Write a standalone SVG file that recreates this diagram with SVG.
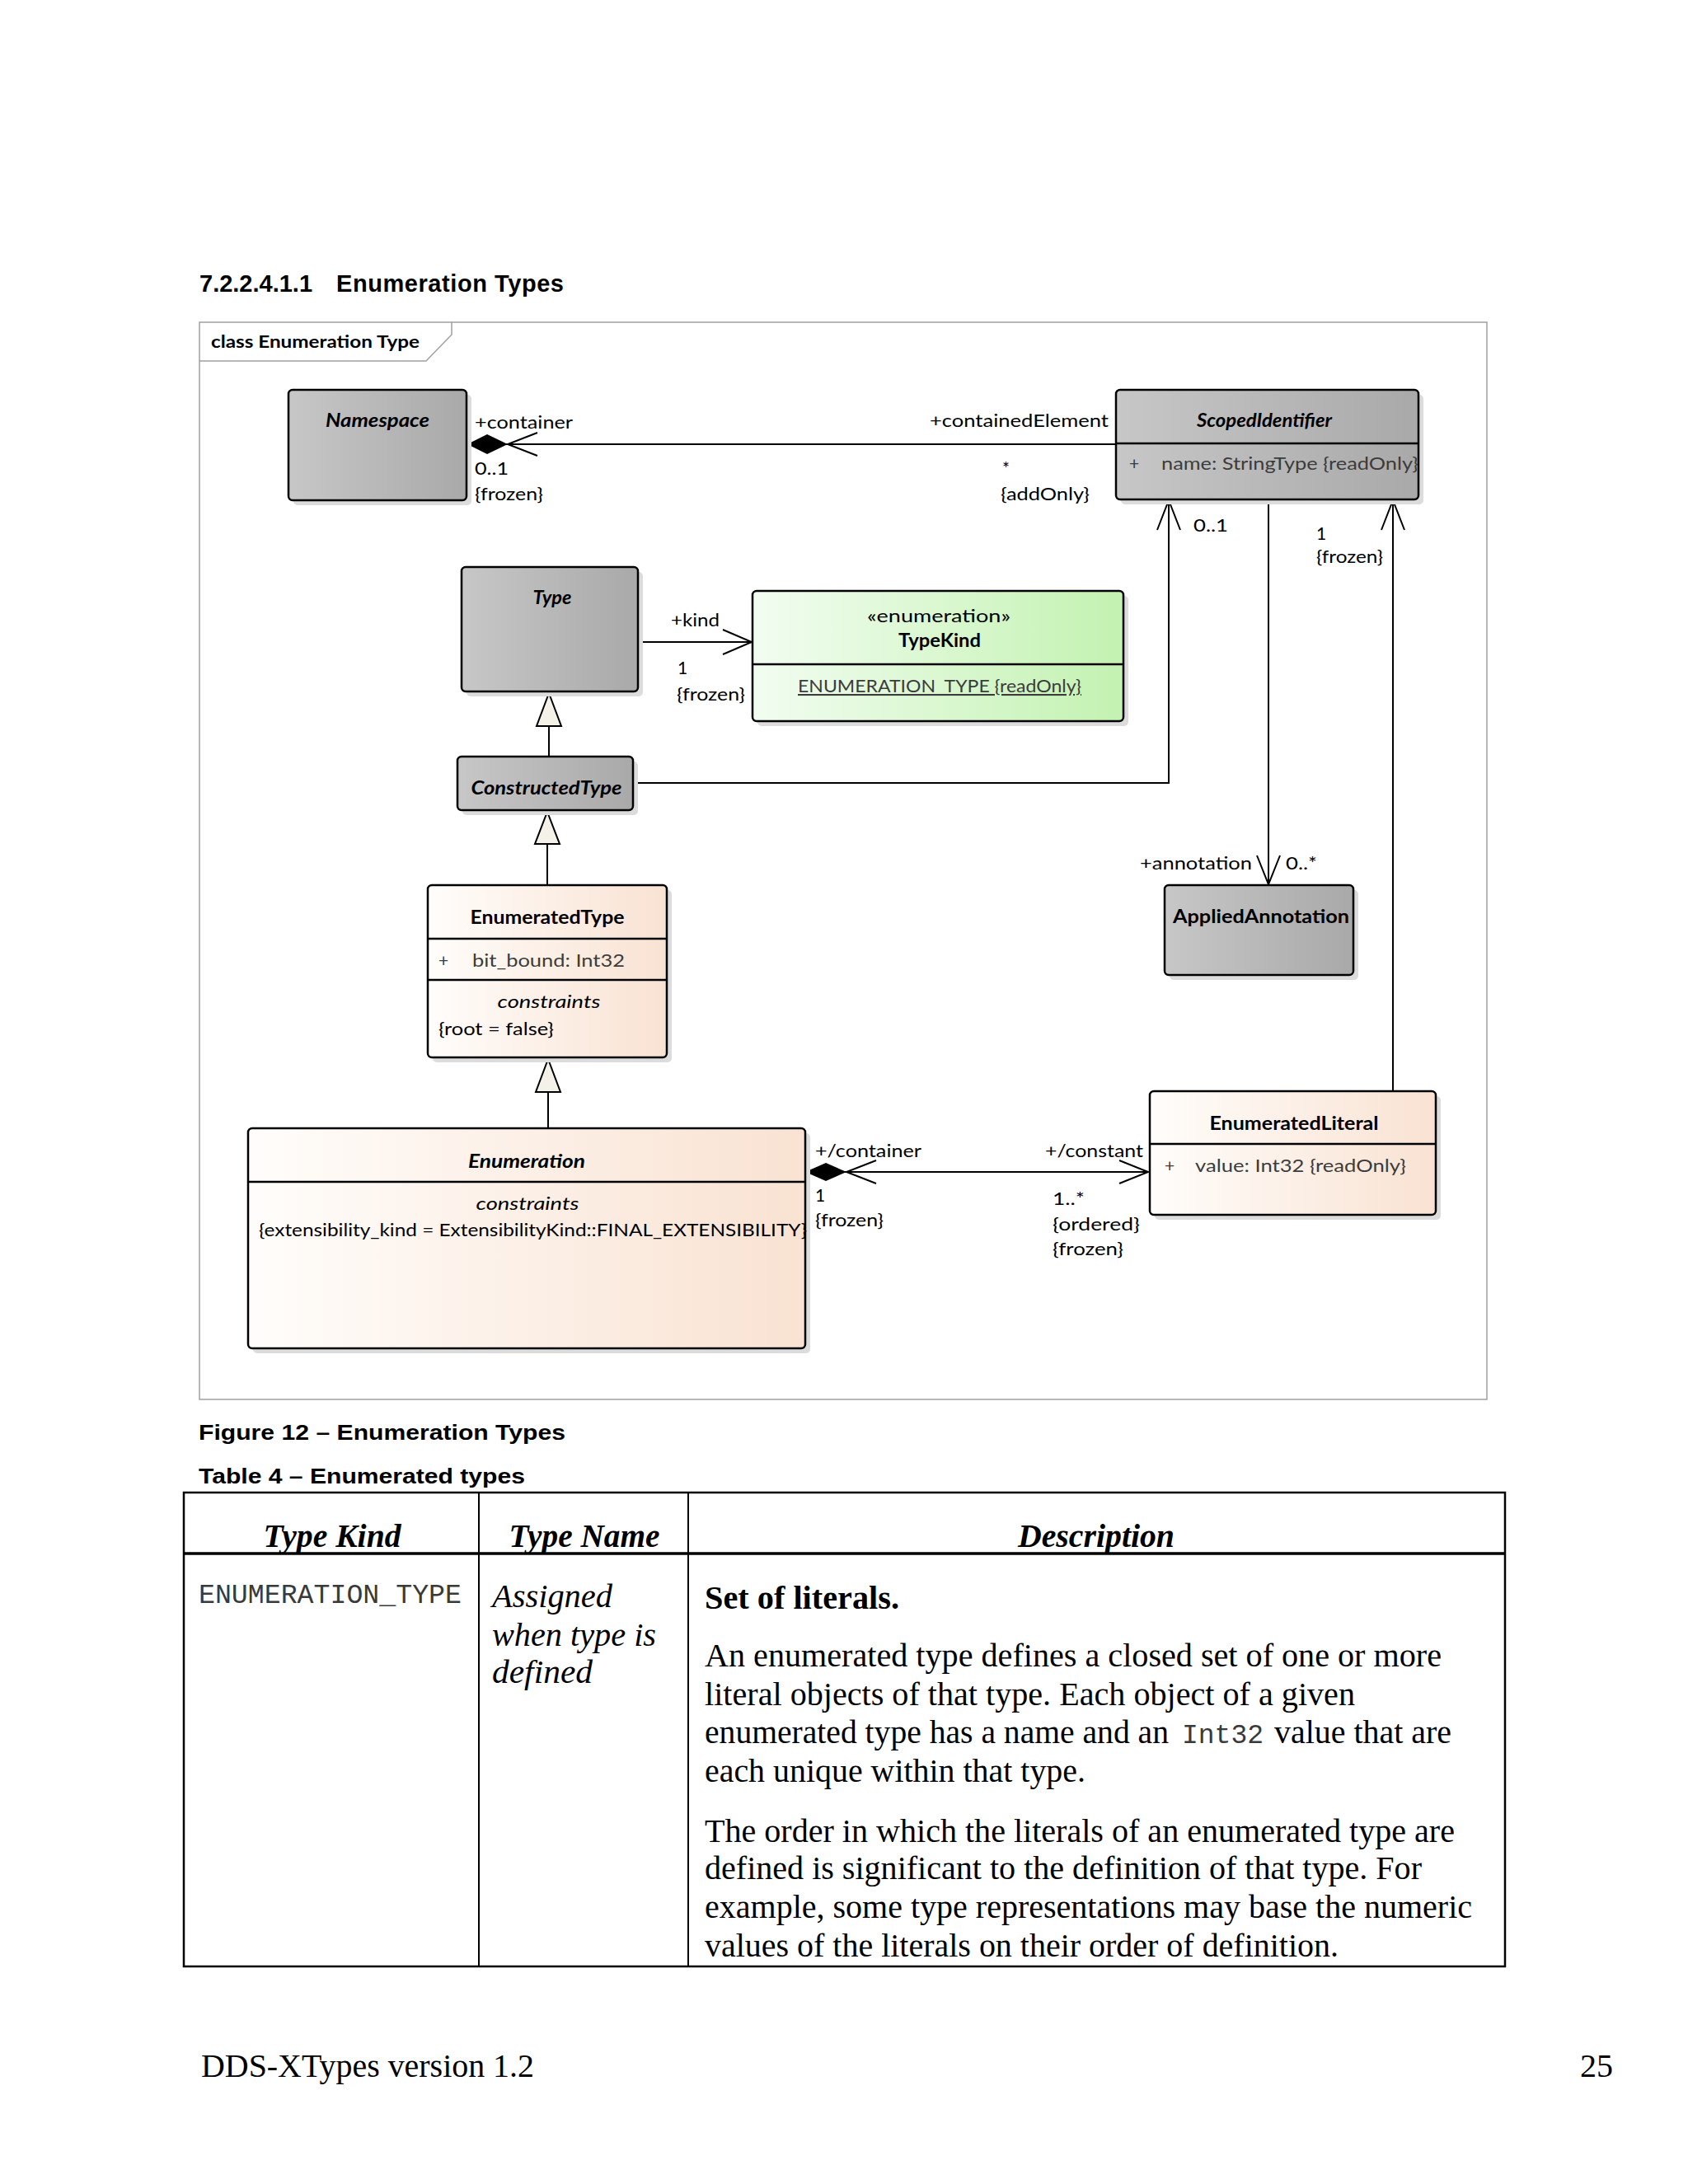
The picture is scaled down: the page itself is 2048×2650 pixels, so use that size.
<svg xmlns="http://www.w3.org/2000/svg" width="2048" height="2650" viewBox="0 0 2048 2650">
<defs>
<linearGradient id="gGray" x1="0" y1="0" x2="1" y2="0"><stop offset="0" stop-color="#c7c7c7"/><stop offset="1" stop-color="#a9a9a9"/></linearGradient>
<linearGradient id="gGreen" x1="0" y1="0" x2="1" y2="0"><stop offset="0" stop-color="#f2fdf1"/><stop offset="1" stop-color="#c3f2b1"/></linearGradient>
<linearGradient id="gPeach" x1="0" y1="0" x2="1" y2="0"><stop offset="0" stop-color="#fffdfb"/><stop offset="1" stop-color="#f9e2d2"/></linearGradient>
<style>
.box{stroke:#000;stroke-width:2.5}
.gray{fill:url(#gGray)}
.green{fill:url(#gGreen)}
.peach{fill:url(#gPeach)}
.sh{fill:#dcdcdc}
.sep{stroke:#000;stroke-width:2.5}
.ln{stroke:#000;stroke-width:2;fill:none}
.dia{fill:#000}
.tri{fill:#f4f1e8;stroke:#000;stroke-width:2}
.d{font-family:Lato,"Open Sans",sans-serif;font-size:21px;fill:#000;font-variant-numeric:lining-nums;font-feature-settings:"lnum" 1,"onum" 0}
.t{font-weight:bold;font-size:22px}
.it{font-style:italic}
.mid{text-anchor:middle}
.attr{fill:#3c3c3c}
.h{font-family:"Liberation Sans",Arial,sans-serif;font-weight:bold;fill:#000}
.s{font-family:"Liberation Serif","Times New Roman",serif;font-size:40px;fill:#000}
.m{font-family:"Liberation Mono","Courier New",monospace;font-size:33px;fill:#3a3a3a}
.tb{stroke:#000;stroke-width:2.5;fill:none}
</style>
</defs>
<rect x="0" y="0" width="2048" height="2650" fill="#ffffff"/>

<!-- page heading -->
<text class="h" font-size="29" x="242" y="354">7.2.2.4.1.1</text>
<text class="h" font-size="29" x="408" y="354" textLength="276">Enumeration Types</text>

<!-- frame -->
<g id="frame">
<rect x="242" y="391" width="1562" height="1307" fill="#ffffff" stroke="#a0a0a0" stroke-width="1.5"/>
<path d="M242,438 H517 L548,406 V391" fill="none" stroke="#a0a0a0" stroke-width="1.5"/>
<text class="d" font-weight="bold" x="256" y="422" textLength="253" lengthAdjust="spacingAndGlyphs">class Enumeration Type</text>
</g>

<!-- connectors -->
<g id="connectors">
<path class="ln" d="M566,539 H1354"/>
<path class="dia" d="M567,539 L591,527 L616,539 L591,551 Z"/>
<path class="ln" d="M652,525 L616,539 L652,553"/>
<path class="ln" d="M774,779 H912"/>
<path class="ln" d="M877,764 L912,779 L877,794"/>
<path class="ln" d="M768,950 H1418 V607"/>
<path class="ln" d="M1404,643 L1418,607 L1432,643"/>
<path class="ln" d="M1539,606 V1073"/>
<path class="ln" d="M1525,1038 L1539,1073 L1553,1038"/>
<path class="ln" d="M1690,1324 V607"/>
<path class="ln" d="M1676,643 L1690,607 L1704,643"/>
<path class="ln" d="M977,1422 H1393"/>
<path class="dia" d="M977,1422 L1002,1411 L1027,1422 L1002,1433 Z"/>
<path class="ln" d="M1063,1408 L1027,1422 L1063,1436"/>
<path class="ln" d="M1358,1408 L1393,1422 L1358,1436"/>
<path class="ln" d="M666,918 V881"/>
<path class="tri" d="M666,841 L681,881 L651,881 Z"/>
<path class="ln" d="M664,1074 V1024"/>
<path class="tri" d="M664,985 L679,1024 L649,1024 Z"/>
<path class="ln" d="M665,1369 V1325"/>
<path class="tri" d="M665,1285 L680,1325 L650,1325 Z"/>
<text class="d" x="576" y="520" textLength="119" lengthAdjust="spacingAndGlyphs">+container</text>
<text class="d" x="576" y="576" textLength="41" lengthAdjust="spacingAndGlyphs">0..1</text>
<text class="d" x="576" y="607" textLength="83" lengthAdjust="spacingAndGlyphs">{frozen}</text>
<text class="d" x="1128" y="518" textLength="217" lengthAdjust="spacingAndGlyphs">+containedElement</text>
<text class="d" x="1216" y="576">*</text>
<text class="d" x="1214" y="607" textLength="108" lengthAdjust="spacingAndGlyphs">{addOnly}</text>
<text class="d" x="1448" y="645" textLength="42" lengthAdjust="spacingAndGlyphs">0..1</text>
<text class="d" x="1597" y="655">1</text>
<text class="d" x="1597" y="683" textLength="81" lengthAdjust="spacingAndGlyphs">{frozen}</text>
<text class="d" x="814" y="760" textLength="59" lengthAdjust="spacingAndGlyphs">+kind</text>
<text class="d" x="822" y="818">1</text>
<text class="d" x="821" y="850" textLength="83" lengthAdjust="spacingAndGlyphs">{frozen}</text>
<text class="d" x="1383" y="1055" textLength="136" lengthAdjust="spacingAndGlyphs">+annotation</text>
<text class="d" x="1560" y="1055" textLength="38" lengthAdjust="spacingAndGlyphs">0..*</text>
<text class="d" x="989" y="1404" textLength="129" lengthAdjust="spacingAndGlyphs">+/container</text>
<text class="d" x="989" y="1458">1</text>
<text class="d" x="989" y="1488" textLength="83" lengthAdjust="spacingAndGlyphs">{frozen}</text>
<text class="d" x="1268" y="1404" textLength="119" lengthAdjust="spacingAndGlyphs">+/constant</text>
<text class="d" x="1277" y="1462" textLength="39" lengthAdjust="spacingAndGlyphs">1..*</text>
<text class="d" x="1277" y="1493" textLength="106" lengthAdjust="spacingAndGlyphs">{ordered}</text>
<text class="d" x="1277" y="1523" textLength="86" lengthAdjust="spacingAndGlyphs">{frozen}</text>
</g>

<!-- nodes -->
<g id="Namespace">
<rect class="sh" x="356" y="479" width="216" height="134" rx="5"/>
<rect class="box gray" x="350" y="473" width="216" height="134" rx="5"/>
<text class="d t it mid" x="458" y="518" textLength="126" lengthAdjust="spacingAndGlyphs">Namespace</text>
</g>

<g id="ScopedIdentifier">
<rect class="sh" x="1360" y="479" width="367" height="133" rx="5"/>
<rect class="box gray" x="1354" y="473" width="367" height="133" rx="5"/>
<line class="sep" x1="1354" y1="538" x2="1721" y2="538"/>
<text class="d t it mid" x="1534" y="518" textLength="164" lengthAdjust="spacingAndGlyphs">ScopedIdentifier</text>
<text class="d attr" x="1370" y="570">+</text>
<text class="d attr" x="1409" y="570" textLength="312" lengthAdjust="spacingAndGlyphs">name: StringType {readOnly}</text>
</g>

<g id="Type">
<rect class="sh" x="566" y="694" width="214" height="151" rx="5"/>
<rect class="box gray" x="560" y="688" width="214" height="151" rx="5"/>
<text class="d t it mid" x="670" y="733" textLength="47" lengthAdjust="spacingAndGlyphs">Type</text>
</g>

<g id="TypeKind">
<rect class="sh" x="919" y="723" width="450" height="158" rx="5"/>
<rect class="box green" x="913" y="717" width="450" height="158" rx="5"/>
<line class="sep" x1="913" y1="806" x2="1363" y2="806"/>
<text class="d mid" x="1139" y="755" textLength="174" lengthAdjust="spacingAndGlyphs">«enumeration»</text>
<text class="d t mid" x="1140" y="785" textLength="100" lengthAdjust="spacingAndGlyphs">TypeKind</text>
<text class="d attr mid" x="1140" y="840" text-decoration="underline" textLength="344" lengthAdjust="spacingAndGlyphs">ENUMERATION_TYPE {readOnly}</text>
</g>

<g id="ConstructedType">
<rect class="sh" x="561" y="924" width="213" height="65" rx="5"/>
<rect class="box gray" x="555" y="918" width="213" height="65" rx="5"/>
<text class="d t it mid" x="663" y="964" textLength="183" lengthAdjust="spacingAndGlyphs">ConstructedType</text>
</g>

<g id="EnumeratedType">
<rect class="sh" x="525" y="1080" width="290" height="209" rx="5"/>
<rect class="box peach" x="519" y="1074" width="290" height="209" rx="5"/>
<line class="sep" x1="519" y1="1139" x2="809" y2="1139"/>
<line class="sep" x1="519" y1="1189" x2="809" y2="1189"/>
<text class="d t mid" x="664" y="1121" textLength="187" lengthAdjust="spacingAndGlyphs">EnumeratedType</text>
<text class="d attr" x="532" y="1173">+</text>
<text class="d attr" x="573" y="1173" textLength="185" lengthAdjust="spacingAndGlyphs">bit_bound: Int32</text>
<text class="d it mid" x="666" y="1223" textLength="125" lengthAdjust="spacingAndGlyphs">constraints</text>
<text class="d" x="532" y="1256" textLength="140" lengthAdjust="spacingAndGlyphs">{root = false}</text>
</g>

<g id="AppliedAnnotation">
<rect class="sh" x="1419" y="1080" width="229" height="109" rx="5"/>
<rect class="box gray" x="1413" y="1074" width="229" height="109" rx="5"/>
<text class="d t" x="1423" y="1120" textLength="214" lengthAdjust="spacingAndGlyphs">AppliedAnnotation</text>
</g>

<g id="EnumeratedLiteral">
<rect class="sh" x="1401" y="1330" width="347" height="150" rx="5"/>
<rect class="box peach" x="1395" y="1324" width="347" height="150" rx="5"/>
<line class="sep" x1="1395" y1="1388" x2="1742" y2="1388"/>
<text class="d t mid" x="1570" y="1371" textLength="205" lengthAdjust="spacingAndGlyphs">EnumeratedLiteral</text>
<text class="d attr" x="1413" y="1422">+</text>
<text class="d attr" x="1450" y="1422" textLength="256" lengthAdjust="spacingAndGlyphs">value: Int32 {readOnly}</text>
</g>

<g id="Enumeration">
<rect class="sh" x="307" y="1375" width="676" height="267" rx="5"/>
<rect class="box peach" x="301" y="1369" width="676" height="267" rx="5"/>
<line class="sep" x1="301" y1="1434" x2="977" y2="1434"/>
<text class="d t it mid" x="639" y="1417" textLength="142" lengthAdjust="spacingAndGlyphs">Enumeration</text>
<text class="d it mid" x="640" y="1468" textLength="125" lengthAdjust="spacingAndGlyphs">constraints</text>
<text class="d" x="314" y="1500" textLength="665" lengthAdjust="spacingAndGlyphs">{extensibility_kind = ExtensibilityKind::FINAL_EXTENSIBILITY}</text>
</g>

<!-- captions -->
<text class="h" font-size="26" x="241" y="1747" textLength="445" lengthAdjust="spacingAndGlyphs">Figure 12 – Enumeration Types</text>
<text class="h" font-size="26" x="241" y="1800" textLength="396" lengthAdjust="spacingAndGlyphs">Table 4 – Enumerated types</text>

<!-- table -->
<g id="table">
<rect class="tb" x="223" y="1811" width="1603" height="575"/>
<line x1="223" y1="1885" x2="1826" y2="1885" stroke="#000" stroke-width="3.5"/>
<line x1="581" y1="1811" x2="581" y2="2386" stroke="#000" stroke-width="2"/>
<line x1="835" y1="1811" x2="835" y2="2386" stroke="#000" stroke-width="2"/>
<text class="s mid" font-weight="bold" font-style="italic" font-size="39" x="403" y="1877" textLength="167" lengthAdjust="spacingAndGlyphs">Type Kind</text>
<text class="s mid" font-weight="bold" font-style="italic" font-size="39" x="709" y="1877" textLength="183" lengthAdjust="spacingAndGlyphs">Type Name</text>
<text class="s mid" font-weight="bold" font-style="italic" font-size="39" x="1330" y="1877" textLength="190" lengthAdjust="spacingAndGlyphs">Description</text>
<text class="m" x="241" y="1945" textLength="319" lengthAdjust="spacingAndGlyphs">ENUMERATION_TYPE</text>
<text class="s" font-style="italic" x="597" y="1950" textLength="146" lengthAdjust="spacingAndGlyphs">Assigned</text>
<text class="s" font-style="italic" x="597" y="1997" textLength="199" lengthAdjust="spacingAndGlyphs">when type is</text>
<text class="s" font-style="italic" x="597" y="2042" textLength="122" lengthAdjust="spacingAndGlyphs">defined</text>
<text class="s" font-weight="bold" x="855" y="1952" textLength="236" lengthAdjust="spacingAndGlyphs">Set of literals.</text>
<text class="s" x="855" y="2022" textLength="894" lengthAdjust="spacingAndGlyphs">An enumerated type defines a closed set of one or more</text>
<text class="s" x="855" y="2069" textLength="789" lengthAdjust="spacingAndGlyphs">literal objects of that type. Each object of a given</text>
<text class="s" x="855" y="2115" textLength="563" lengthAdjust="spacingAndGlyphs">enumerated type has a name and an</text>
<text class="m" x="1434" y="2115" textLength="99" lengthAdjust="spacingAndGlyphs">Int32</text>
<text class="s" x="1546" y="2115" textLength="215" lengthAdjust="spacingAndGlyphs">value that are</text>
<text class="s" x="855" y="2162" textLength="462" lengthAdjust="spacingAndGlyphs">each unique within that type.</text>
<text class="s" x="855" y="2235" textLength="910" lengthAdjust="spacingAndGlyphs">The order in which the literals of an enumerated type are</text>
<text class="s" x="855" y="2280" textLength="870" lengthAdjust="spacingAndGlyphs">defined is significant to the definition of that type. For</text>
<text class="s" x="855" y="2327" textLength="931" lengthAdjust="spacingAndGlyphs">example, some type representations may base the numeric</text>
<text class="s" x="855" y="2374" textLength="769" lengthAdjust="spacingAndGlyphs">values of the literals on their order of definition.</text>
</g>

<!-- footer -->
<text class="s" x="244" y="2520" textLength="404" lengthAdjust="spacingAndGlyphs">DDS-XTypes version 1.2</text>
<text class="s" x="1957" y="2520" text-anchor="end">25</text>
</svg>
